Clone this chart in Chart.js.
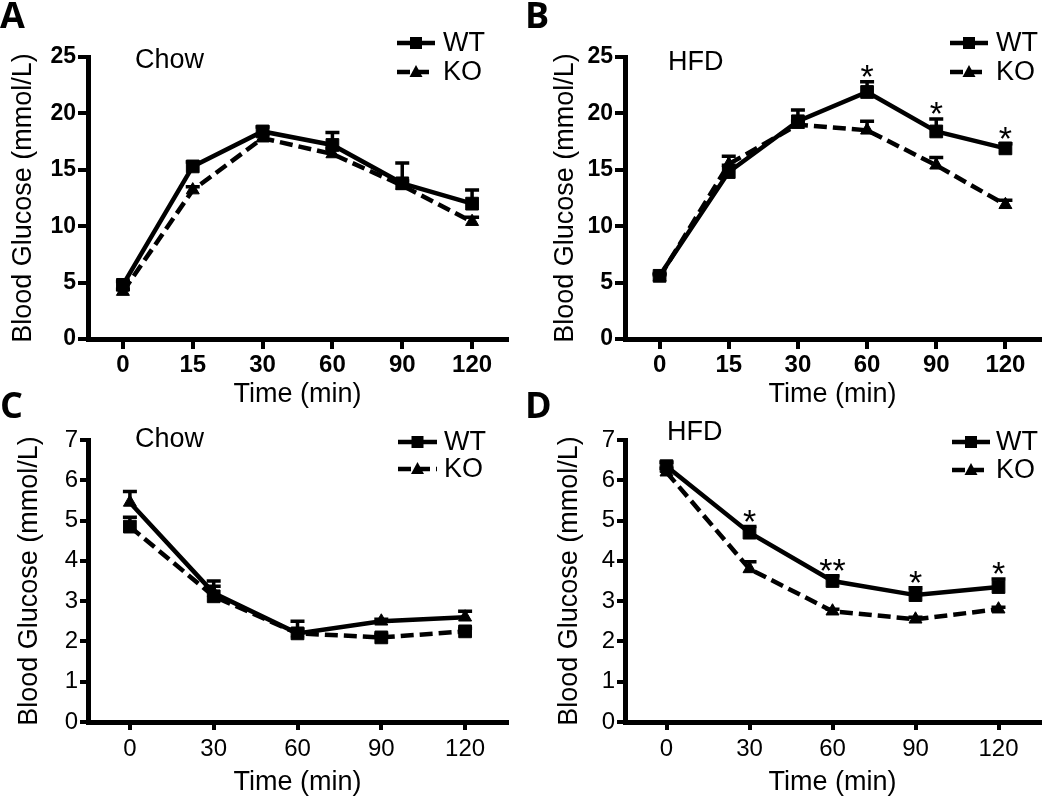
<!DOCTYPE html>
<html>
<head>
<meta charset="utf-8">
<script src="https://cdn.jsdelivr.net/npm/chart.js@4.4.0/dist/chart.umd.min.js"></script>
<style>
html, body { margin: 0; padding: 0; background: #fff; overflow: hidden; }
#wrap { position: relative; width: 1050px; height: 796px; }
canvas { position: absolute; }
</style>
</head>
<body>
<div id="wrap">
  <canvas id="panel-a" width="525" height="420" style="left:0;top:0"></canvas>
  <canvas id="panel-b" width="525" height="420" style="left:525px;top:0"></canvas>
  <canvas id="panel-c" width="525" height="420" style="left:0;top:390px"></canvas>
  <canvas id="panel-d" width="525" height="420" style="left:525px;top:390px"></canvas>
</div>
<script>
// Glucose tolerance (A, B) and insulin tolerance (C, D)
const timesGTT = ['0', '15', '30', '60', '90', '120'];
const timesITT = ['0', '30', '60', '90', '120'];

const aWT = [4.8, 15.3, 18.4, 17.2, 13.8, 12.0];
const aWTErr = [0.3, 0.4, 0.4, 1.1, 1.8, 1.2];
const aKO = [4.2, 13.2, 17.8, 16.4, 13.6, 10.4];
const aKOErr = [0.2, 0.3, 0.3, 0.5, 0.4, 0.4];

const bWT = [5.6, 14.8, 19.3, 21.9, 18.4, 16.9];
const bWTErr = [0.2, 0.6, 1.0, 0.9, 1.1, 0.4];
const bKO = [5.5, 15.5, 19.0, 18.5, 15.4, 11.9];
const bKOErr = [0.2, 0.7, 0.3, 0.8, 0.7, 0.4];
const bStars = ['', '', '', '*', '*', '*'];

const cWT = [4.85, 3.12, 2.2, 2.1, 2.25];
const cWTErr = [0.23, 0.25, 0.1, 0.08, 0.08];
const cKO = [5.45, 3.2, 2.2, 2.5, 2.6];
const cKOErr = [0.27, 0.3, 0.3, 0.05, 0.15];

const dWT = [6.35, 4.7, 3.5, 3.15, 3.35];
const dWTErr = [0.1, 0.15, 0.13, 0.18, 0.2];
const dKO = [6.2, 3.8, 2.75, 2.55, 2.8];
const dKOErr = [0.1, 0.18, 0.05, 0.05, 0.05];
const dStars = ['', '*', '**', '*', '*'];

const FONT = "'Liberation Sans', Arial, Helvetica, sans-serif";

function drawMarker(ctx, style, x, y) {
    ctx.beginPath();
    if (style === 'rect') {
        ctx.rect(x - 6, y - 6, 12, 12);
    } else {
        ctx.moveTo(x, y - 7);
        ctx.lineTo(x + 6.5, y + 5);
        ctx.lineTo(x - 6.5, y + 5);
        ctx.closePath();
    }
    ctx.fill();
}

// error bars, stars, legend, labels
const panelDecor = {
    id: 'panelDecor',
    afterDatasetsDraw(chart, args, opts) {
        const ctx = chart.ctx;
        const xs = chart.scales.x, ys = chart.scales.y;
        ctx.save();
        ctx.strokeStyle = '#000';
        ctx.lineWidth = 3.5;
        ctx.setLineDash([]);
        chart.data.datasets.forEach(ds => {
            ds.data.forEach((v, i) => {
                const px = xs.getPixelForValue(i);
                const p0 = ys.getPixelForValue(v);
                const p1 = ys.getPixelForValue(v + ds.errors[i]);
                ctx.beginPath();
                ctx.moveTo(px, p0);
                ctx.lineTo(px, p1);
                ctx.moveTo(px - 7, p1);
                ctx.lineTo(px + 7, p1);
                ctx.stroke();
            });
        });
        // significance stars above WT
        if (opts.stars) {
            const wt = chart.data.datasets[0];
            ctx.fillStyle = '#000';
            ctx.font = '34px ' + FONT;
            ctx.textAlign = 'center';
            ctx.textBaseline = 'alphabetic';
            opts.stars.forEach((s, i) => {
                if (!s) return;
                const px = xs.getPixelForValue(i);
                const py = ys.getPixelForValue(wt.data[i] + wt.errors[i]);
                ctx.fillText(s, px, py + 6);
            });
        }
        ctx.restore();
    },
    afterDraw(chart, args, opts) {
        const ctx = chart.ctx;
        ctx.save();
        ctx.fillStyle = '#000';
        ctx.strokeStyle = '#000';
        // panel letter
        ctx.font = "bold 36px 'Open Sans', " + FONT;
        ctx.textAlign = 'left';
        ctx.textBaseline = 'alphabetic';
        ctx.fillText(opts.letter, 0, 28);
        // diet label
        ctx.font = '27px ' + FONT;
        ctx.textBaseline = 'middle';
        ctx.fillText(opts.diet, opts.dietX, opts.dietY);
        // legend
        const lg = opts.legend;
        [['WT', lg.y1, [], 'rect'], ['KO', lg.y2, [13, 6], 'triangle']].forEach(item => {
            ctx.lineWidth = 4.5;
            ctx.setLineDash(item[2]);
            ctx.beginPath();
            ctx.moveTo(lg.x1, item[1]);
            ctx.lineTo(lg.x2, item[1]);
            ctx.stroke();
            ctx.setLineDash([]);
            drawMarker(ctx, item[3], (lg.x1 + lg.x2) / 2, item[1]);
            ctx.fillText(item[0], lg.textX, item[1] + 1);
        });
        ctx.restore();
    }
};

function buildConfig(p) {
    const axisGrid = { display: true, drawOnChartArea: false, drawTicks: true, tickLength: p.tickLen, lineWidth: 4, color: '#000' };
    const axisBorder = { display: true, color: '#000', width: 5 };
    return {
        type: 'line',
        data: {
            labels: p.labels,
            datasets: [{
                label: 'WT',
                data: p.wt,
                errors: p.wtErr,
                borderColor: '#000',
                backgroundColor: '#000',
                borderWidth: 4.5,
                borderDash: p.wtDash,
                pointStyle: p.wtPoint,
                pointRadius: p.wtPoint === 'rect' ? 9 : 7.5,
                pointBorderWidth: 1,
                pointBackgroundColor: '#000',
                pointBorderColor: '#000',
                tension: 0
            }, {
                label: 'KO',
                data: p.ko,
                errors: p.koErr,
                borderColor: '#000',
                backgroundColor: '#000',
                borderWidth: 4.5,
                borderDash: p.koDash,
                pointStyle: p.koPoint,
                pointRadius: p.koPoint === 'rect' ? 9 : 7.5,
                pointBorderWidth: 1,
                pointBackgroundColor: '#000',
                pointBorderColor: '#000',
                tension: 0
            }]
        },
        options: {
            responsive: false,
            animation: false,
            events: [],
            layout: {
                padding: { left: p.padLeft, top: p.top, right: 525 - p.right, bottom: 420 - p.bottom - p.xHeight }
            },
            plugins: {
                legend: { display: false },
                tooltip: { enabled: false },
                panelDecor: p.decor
            },
            scales: {
                x: {
                    type: 'category',
                    offset: true,
                    grid: axisGrid,
                    border: axisBorder,
                    ticks: { color: '#000', font: { family: FONT, size: p.xTickSize, weight: p.tickWeight }, padding: p.xPad, maxRotation: 0, autoSkip: false },
                    title: { display: true, text: 'Time (min)', color: '#000', font: { family: FONT, size: 27 }, padding: 0 },
                    afterFit: s => { s.height = p.xHeight; }
                },
                y: {
                    min: 0,
                    max: p.yMax,
                    grid: axisGrid,
                    border: axisBorder,
                    ticks: { color: '#000', font: { family: FONT, size: p.tickSize, weight: p.tickWeight }, stepSize: p.yStep, padding: 2 },
                    title: { display: true, text: 'Blood Glucose (mmol/L)', color: '#000', font: { family: FONT, size: 27 }, padding: 0 },
                    afterFit: s => { s.width = p.yWidth; }
                }
            }
        },
        plugins: [panelDecor]
    };
}

const chartA = new Chart(document.getElementById('panel-a'), buildConfig({
    labels: timesGTT, wt: aWT, wtErr: aWTErr, ko: aKO, koErr: aKOErr,
    wtDash: [], koDash: [13, 6], wtPoint: 'rect', koPoint: 'triangle',
    yMax: 25, yStep: 5, tickSize: 23, xTickSize: 24, tickWeight: 'bold', tickLen: 10, xPad: 2,
    padLeft: 7, yWidth: 81, top: 57, right: 507, bottom: 339, xHeight: 72,
    decor: { letter: 'A', diet: 'Chow', dietX: 135, dietY: 61, legend: { x1: 397, x2: 435, textX: 443, y1: 43, y2: 72 } }
}));

const chartB = new Chart(document.getElementById('panel-b'), buildConfig({
    labels: timesGTT, wt: bWT, wtErr: bWTErr, ko: bKO, koErr: bKOErr,
    wtDash: [], koDash: [13, 6], wtPoint: 'rect', koPoint: 'triangle',
    yMax: 25, yStep: 5, tickSize: 23, xTickSize: 24, tickWeight: 'bold', tickLen: 10, xPad: 2,
    padLeft: 24, yWidth: 76, top: 57, right: 522, bottom: 339, xHeight: 72,
    decor: { letter: 'B', diet: 'HFD', dietX: 143, dietY: 63, stars: bStars, legend: { x1: 425, x2: 463, textX: 471, y1: 43, y2: 72 } }
}));

// panel C: squares sit on the dashed line and triangles on the solid one, as in the figure
const chartC = new Chart(document.getElementById('panel-c'), buildConfig({
    labels: timesITT, wt: cWT, wtErr: cWTErr, ko: cKO, koErr: cKOErr,
    wtDash: [13, 6], koDash: [], wtPoint: 'rect', koPoint: 'triangle',
    yMax: 7, yStep: 1, tickSize: 24, xTickSize: 24, tickWeight: 'normal', tickLen: 8, xPad: 5,
    padLeft: 13, yWidth: 75, top: 50, right: 507, bottom: 332, xHeight: 77,
    decor: { letter: 'C', diet: 'Chow', dietX: 135, dietY: 50, legend: { x1: 398, x2: 437, textX: 444, y1: 52, y2: 79 } }
}));

const chartD = new Chart(document.getElementById('panel-d'), buildConfig({
    labels: timesITT, wt: dWT, wtErr: dWTErr, ko: dKO, koErr: dKOErr,
    wtDash: [], koDash: [13, 6], wtPoint: 'rect', koPoint: 'triangle',
    yMax: 7, yStep: 1, tickSize: 24, xTickSize: 24, tickWeight: 'normal', tickLen: 8, xPad: 5,
    padLeft: 28, yWidth: 72, top: 50, right: 519, bottom: 332, xHeight: 77,
    decor: { letter: 'D', diet: 'HFD', dietX: 142, dietY: 43, stars: dStars, legend: { x1: 427, x2: 465, textX: 471, y1: 52, y2: 80 } }
}));
</script>
</body>
</html>
